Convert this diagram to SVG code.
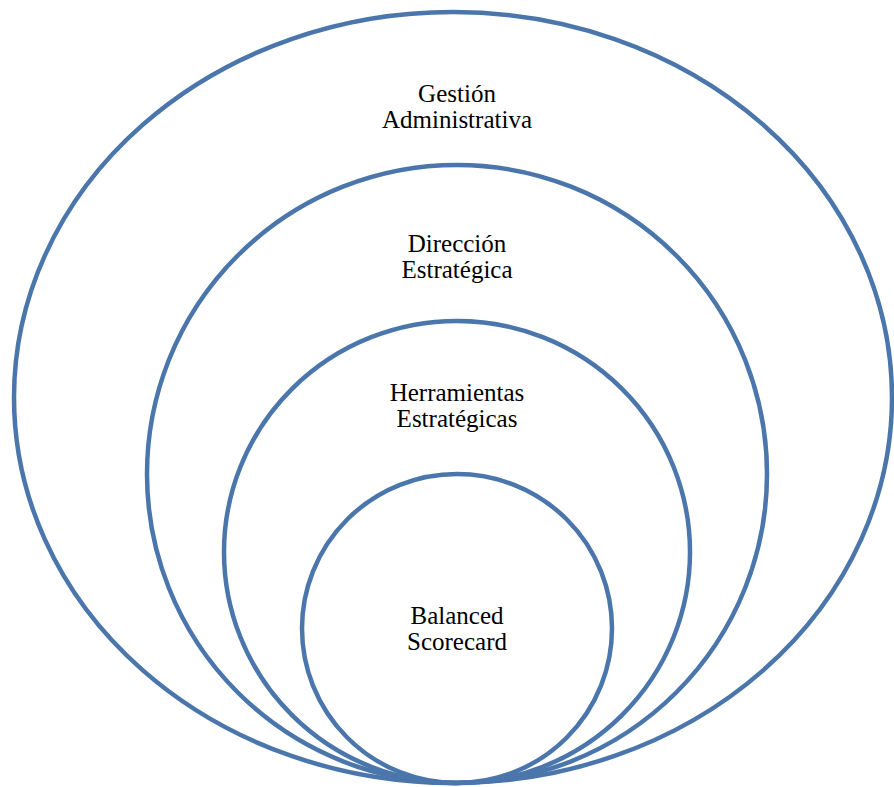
<svg xmlns="http://www.w3.org/2000/svg" width="894" height="787" viewBox="0 0 894 787">
<style>
.ring{fill:none;stroke:#4A76AC;stroke-width:4.5}
.lbl{font-family:"Times New Roman","Liberation Serif","DejaVu Serif",serif;font-size:25px;fill:#000;text-anchor:middle}
</style>
<rect width="894" height="787" fill="#fff"/>
<g id="gestion">
<ellipse class="ring" cx="453" cy="397.5" rx="439" ry="385.5"/>
<text class="lbl" x="457" y="102">Gestión</text>
<text class="lbl" x="457" y="128">Administrativa</text>
</g>
<g id="direccion">
<ellipse class="ring" cx="457" cy="474" rx="310" ry="309"/>
<text class="lbl" x="457" y="252">Dirección</text>
<text class="lbl" x="457" y="278">Estratégica</text>
</g>
<g id="herramientas">
<ellipse class="ring" cx="457" cy="552" rx="233" ry="231"/>
<text class="lbl" x="457" y="401">Herramientas</text>
<text class="lbl" x="457" y="427">Estratégicas</text>
</g>
<g id="balanced">
<ellipse class="ring" cx="457" cy="628.5" rx="155" ry="154.5"/>
<text class="lbl" x="457" y="624">Balanced</text>
<text class="lbl" x="457" y="650">Scorecard</text>
</g>
<g id="connectors"></g>
</svg>
